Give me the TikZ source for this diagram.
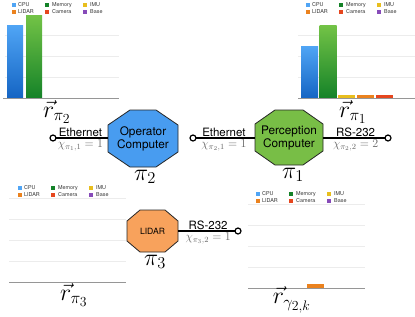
\documentclass[tikz,border=0pt]{standalone}
\usepackage{fontspec}
\newfontfamily\hv{TeX Gyre Heros}
\definecolor{cpuA}{RGB}{80,165,245}
\definecolor{cpuB}{RGB}{20,100,195}
\definecolor{memA}{RGB}{115,195,70}
\definecolor{memB}{RGB}{20,130,40}
\definecolor{imuC}{RGB}{232,190,30}
\definecolor{lidC}{RGB}{235,130,30}
\definecolor{camC}{RGB}{230,70,30}
\definecolor{basC}{RGB}{135,75,185}
\definecolor{opC}{RGB}{72,156,240}
\definecolor{peC}{RGB}{120,190,70}
\definecolor{liC}{RGB}{248,162,92}
\definecolor{gridC}{RGB}{236,236,236}
\definecolor{baseC}{RGB}{150,150,150}
\tikzset{
  octo/.style={rectangle, inner sep=0pt, align=center, font=\hv\fontsize{11.8}{13}\selectfont},
  octoline/.style={draw=black!85, line width=0.8pt, line join=miter},
  link/.style={line width=1.1pt, black},
  port/.style={circle, draw=black, line width=1.2pt, fill=white, inner sep=0pt, minimum size=6pt},
  toplab/.style={above, inner sep=1pt, font=\hv\fontsize{11.5}{12}\selectfont},
  botlab/.style={below, inner sep=1.5pt, text=black!60, font=\fontsize{12}{13}\selectfont},
  leg/.style={anchor=west, inner sep=0pt, text=black!80, font=\hv\fontsize{5.4}{6}\selectfont},
  gridl/.style={gridC, line width=0.6pt},
  basel/.style={baseC, line width=0.8pt},
  big/.style={font=\fontsize{20.74}{24}\selectfont, inner sep=0pt, scale=1.15, transform shape}
}
% \octagonshape{cx}{cy}{half width}{half height}{chamfer x}{chamfer y}{colour}
\newcommand\octagonshape[7]{%
  \filldraw[octoline, fill=#7]
    ({#1-#3+#5},{#2-#4}) -- ({#1+#3-#5},{#2-#4}) -- ({#1+#3},{#2-#4+#6}) --
    ({#1+#3},{#2+#4-#6}) -- ({#1+#3-#5},{#2+#4}) -- ({#1-#3+#5},{#2+#4}) --
    ({#1-#3},{#2+#4-#6}) -- ({#1-#3},{#2-#4+#6}) -- cycle;}
\newcommand\chartlegend[2]{%
  \begin{scope}[shift={(#1,#2)}]
    \fill[cpuA] (0,0) rectangle +(3.5,3.5);  \node[leg] (lg1) at (6,1.8) {CPU};
    \fill[memB] (33,0) rectangle +(3.5,3.5); \node[leg] (lg2) at (40,1.8) {Memory};
    \fill[imuC] (71,0) rectangle +(3.5,3.5); \node[leg] (lg3) at (78,1.8) {IMU};
    \fill[lidC] (0,7) rectangle +(3.5,3.5);  \node[leg] (lg4) at (6,8.8) {LIDAR};
    \fill[camC] (33,7) rectangle +(3.5,3.5); \node[leg] (lg5) at (40,8.8) {Camera};
    \fill[basC] (71,7) rectangle +(3.5,3.5); \node[leg] (lg6) at (78,8.8) {Base};
  \end{scope}}
\begin{document}
\begin{tikzpicture}[x=1pt,y=-1pt]
\useasboundingbox (0,0) rectangle (415,316);
% ---------- chart 1 (top left) ----------
\chartlegend{12}{3}
\foreach \yy in {35,56,77} \draw[gridl] (5,\yy) -- (119,\yy);
\shade[top color=cpuA, bottom color=cpuB] (7,25) rectangle (23,98.5);
\shade[top color=memA, bottom color=memB] (26,15) rectangle (42,98.5);
\draw[basel] (3,98.7) -- (119,98.7);
% ---------- chart 2 (top right) ----------
\chartlegend{306}{3}
\foreach \yy in {35,56,77} \draw[gridl] (298,\yy) -- (415,\yy);
\shade[top color=cpuA, bottom color=cpuB] (301,46) rectangle (318,98.5);
\shade[top color=memA, bottom color=memB] (319.5,25) rectangle (336.5,98.5);
\fill[imuC] (338,94.5) rectangle (355,98.5);
\fill[lidC] (357,94.5) rectangle (374,98.5);
\fill[camC] (375.5,94.5) rectangle (392.5,98.5);
\draw[basel] (298,98.7) -- (415,98.7);
% ---------- chart 3 (bottom left) ----------
\chartlegend{18}{186}
\foreach \yy in {198,219,240,261} \draw[gridl] (9,\yy) -- (126,\yy);
\draw[basel] (9,282) -- (126,282);
% ---------- chart 4 (bottom right) ----------
\chartlegend{256}{192}
\foreach \yy in {204,225,246,267} \draw[gridl] (248,\yy) -- (365,\yy);
\fill[lidC] (307,284) rectangle (324,288);
\draw[basel] (248,288) -- (365,288);
% ---------- vector labels ----------
\node[big] (rp2) at (57,112) {$\vec{r}_{\pi_2}$};
\node[big] (rp1) at (353,112) {$\vec{r}_{\pi_1}$};
\node[big] (rp3) at (74,295) {$\vec{r}_{\pi_3}$};
\node[big] (rg) at (292,300) {$\vec{r}_{\gamma_{2,k}}$};
% ---------- computers ----------
\octagonshape{143}{138.5}{35}{28.5}{22}{15}{opC}
\octagonshape{289}{137.5}{34}{27.5}{20}{14}{peC}
\octagonshape{152.5}{231}{25.5}{21}{13}{11}{liC}
\node[octo, minimum width=70pt, minimum height=57pt] (op) at (143,138.5) {Operator\\Computer};
\node[octo, minimum width=68pt, minimum height=55pt] (pe) at (289,137.5) {Perception\\Computer};
\node[octo, minimum width=51pt, minimum height=42pt, font=\hv\fontsize{8.6}{10}\selectfont] (li) at (152.5,231) {LIDAR};
\node[big] (p2) at (145,177) {$\pi_2$};
\node[big] (p1) at (293,175) {$\pi_1$};
\node[big] (p3) at (155,262) {$\pi_3$};
% ---------- links ----------
\coordinate (e1) at (53,138);
\coordinate (e2) at (193,138);
\coordinate (e3) at (388,138);
\coordinate (e4) at (238,231);
\draw[link] (e1) -- node[toplab] (t1) {Ethernet} node[botlab] (c1) {$\chi_{\pi_1,1}=1$} (op.west |- e1);
\draw[link] (e2) -- node[toplab] (t2) {Ethernet} node[botlab] (c2) {$\chi_{\pi_2,1}=1$} (pe.west |- e2);
\draw[link] (pe.east |- e3) -- node[toplab] (t3) {RS-232} node[botlab] (c3) {$\chi_{\pi_2,2}=2$} (e3);
\draw[link] (li.east) -- node[toplab] (t4) {RS-232} node[botlab] (c4) {$\chi_{\pi_3,2}=1$} (e4);
\node[port] (q1) at (e1) {};
\node[port] (q2) at (e2) {};
\node[port] (q3) at (e3) {};
\node[port] (q4) at (e4) {};
\end{tikzpicture}
\end{document}
